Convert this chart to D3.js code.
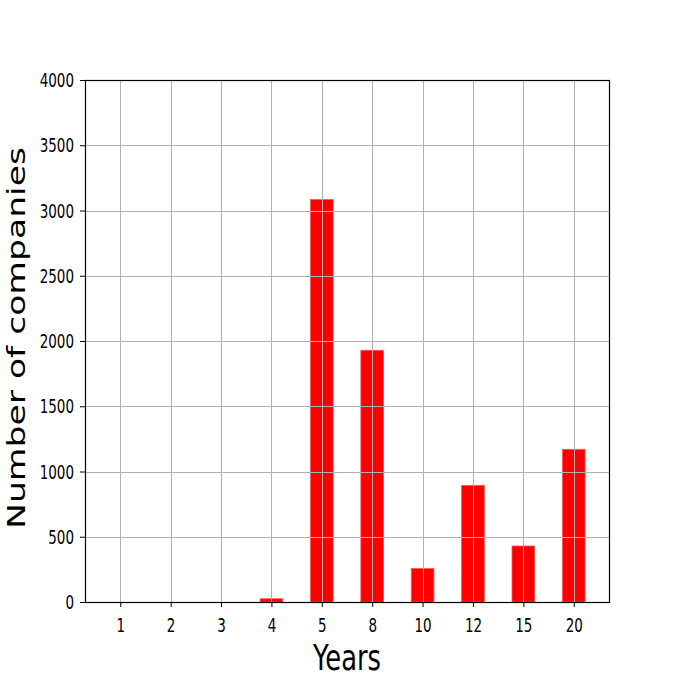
<!DOCTYPE html>
<html>
<head>
<meta charset="utf-8">
<script src="https://cdn.jsdelivr.net/npm/d3@7"></script>
<style>
  html, body { margin: 0; padding: 0; background: #fff; }
  svg { display: block; }
</style>
</head>
<body>
<svg id="chart" width="676" height="677"></svg>
<script>
const categories = ["1", "2", "3", "4", "5", "8", "10", "12", "15", "20"];
const companies = [0, 0, 0, 25, 3084, 1929, 256, 894, 429, 1170];
const yTicks = [0, 500, 1000, 1500, 2000, 2500, 3000, 3500, 4000];
const xLabel = "Years";
const yLabel = "Number of companies";

const W = 676, H = 677;
const m = { left: 85, right: 609, top: 80, bottom: 602 };
const SY = 1.4; // vertical stretch of glyphs
const FONT = "DejaVu Sans";

const svg = d3.select("#chart");

const x = d3.scalePoint().domain(categories).range([m.left, m.right]).padding(0.7);
const y = d3.scaleLinear().domain([0, 4000]).range([m.bottom, m.top]);
const step = x.step();
const barW = step * 0.45;

// bars
svg.append("g").selectAll("rect")
  .data(categories.map((c, i) => ({ c, v: companies[i] })))
  .join("rect")
  .attr("x", d => x(d.c) - barW / 2)
  .attr("width", barW)
  .attr("y", d => y(d.v))
  .attr("height", d => y(0) - y(d.v))
  .attr("fill", "#ff0000")
  .attr("stroke", "#ff5555")
  .attr("stroke-width", 0.8);

// grid (drawn over bars)
const grid = svg.append("g").attr("stroke", "#b0b0b0").attr("stroke-width", 1);
grid.selectAll("line.v").data(categories).join("line")
  .attr("x1", d => Math.round(x(d)) + 0.5).attr("x2", d => Math.round(x(d)) + 0.5)
  .attr("y1", m.top).attr("y2", m.bottom);
grid.selectAll("line.h").data(yTicks).join("line")
  .attr("y1", d => Math.round(y(d)) + 0.5).attr("y2", d => Math.round(y(d)) + 0.5)
  .attr("x1", m.left).attr("x2", m.right);

// axes
const xAxis = svg.append("g").attr("transform", `translate(0,${m.bottom})`)
  .call(d3.axisBottom(x).tickSizeOuter(0).tickSize(5).tickPadding(6));
const yAxis = svg.append("g").attr("transform", `translate(${m.left},0)`)
  .call(d3.axisLeft(y).tickValues(yTicks).tickFormat(d3.format("d")).tickSizeOuter(0).tickSize(5).tickPadding(6));

[xAxis, yAxis].forEach(a => {
  a.select(".domain").remove();
  a.selectAll(".tick line").attr("stroke", "#000").attr("stroke-width", 1);
  a.selectAll(".tick text")
    .attr("font-family", FONT)
    .attr("font-size", 13.5)
    .attr("fill", "#000");
});
xAxis.selectAll(".tick text")
  .attr("y", 0).attr("dy", null)
  .attr("transform", `translate(0,29.5) scale(1,${SY})`);
yAxis.selectAll(".tick text")
  .attr("x", 0).attr("dy", null)
  .attr("transform", `translate(-11,6.6) scale(1,${SY})`);

// spines
svg.append("rect")
  .attr("x", m.left + 0.5).attr("y", m.top + 0.5)
  .attr("width", m.right - m.left).attr("height", m.bottom - m.top)
  .attr("fill", "none").attr("stroke", "#000").attr("stroke-width", 1.2);

// x label
svg.append("text")
  .attr("transform", `translate(${(m.left + m.right) / 2},670) scale(1,${SY})`)
  .attr("text-anchor", "middle")
  .attr("font-family", FONT)
  .attr("font-size", 25.8)
  .attr("fill", "#000")
  .text(xLabel);

// y label
svg.append("text")
  .attr("transform", `translate(25,338) rotate(-90) scale(${SY},1)`)
  .attr("text-anchor", "middle")
  .attr("font-family", FONT)
  .attr("font-size", 24.7)
  .attr("fill", "#000")
  .text(yLabel);
</script>
</body>
</html>
